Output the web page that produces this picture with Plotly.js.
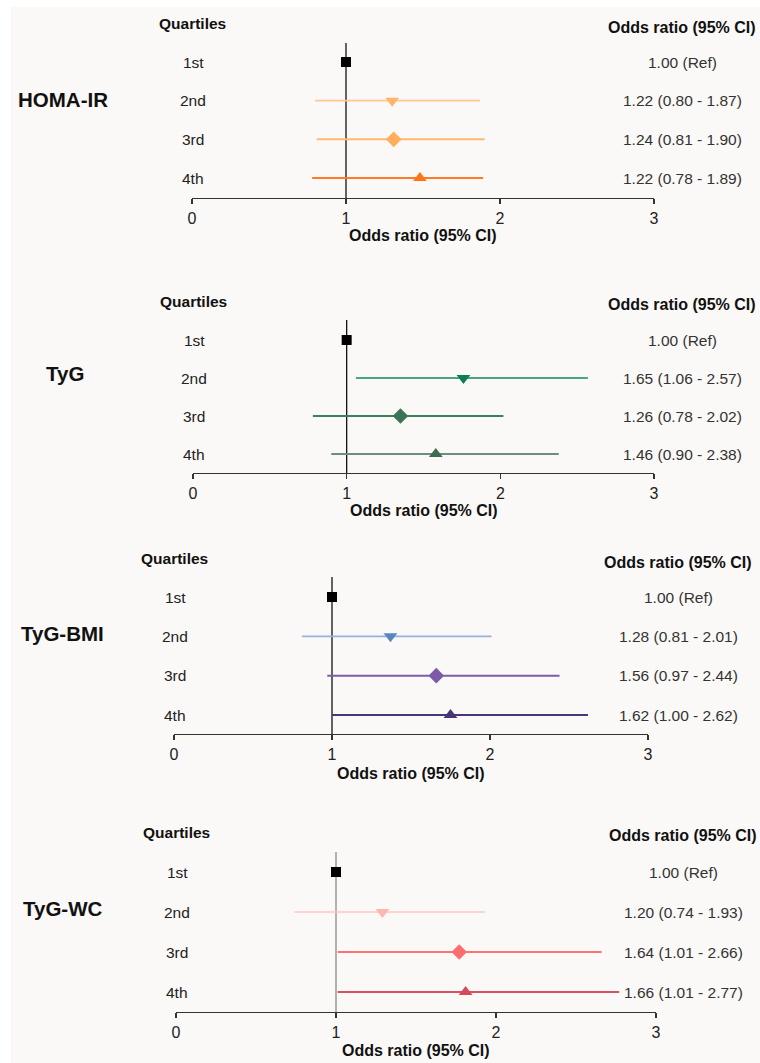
<!DOCTYPE html>
<html>
<head>
<meta charset="utf-8">
<script src="https://cdn.plot.ly/plotly-3.0.1.min.js"></script>
<style>html,body{margin:0;padding:0;background:#fff;}#chart{width:760px;height:1063px;}</style>
</head>
<body>
<div id="chart"></div>
<script>
// ---------- DATA ----------
const quartiles = ['1st', '2nd', '3rd', '4th'];
const groups = ['HOMA-IR', 'TyG', 'TyG-BMI', 'TyG-WC'];

// Printed odds ratios and 95% CI
const homaOR = [1.00, 1.22, 1.24, 1.22];
const homaLo = [null, 0.80, 0.81, 0.78];
const homaHi = [null, 1.87, 1.90, 1.89];
const homaMarker = [1.00, 1.30, 1.31, 1.48];   // marker positions as drawn

const tygOR = [1.00, 1.65, 1.26, 1.46];
const tygLo = [null, 1.06, 0.78, 0.90];
const tygHi = [null, 2.57, 2.02, 2.38];
const tygMarker = [1.00, 1.76, 1.35, 1.58];

const bmiOR = [1.00, 1.28, 1.56, 1.62];
const bmiLo = [null, 0.81, 0.97, 1.00];
const bmiHi = [null, 2.01, 2.44, 2.62];
const bmiMarker = [1.00, 1.37, 1.66, 1.75];

const wcOR = [1.00, 1.20, 1.64, 1.66];
const wcLo = [null, 0.74, 1.01, 1.01];
const wcHi = [null, 1.93, 2.66, 2.77];
const wcMarker = [1.00, 1.29, 1.77, 1.81];

const xTicks = [0, 1, 2, 3];
const headerLeft = 'Quartiles';
const headerRight = 'Odds ratio (95% CI)';
const axisTitle = 'Odds ratio (95% CI)';

// ---------- STYLE / GEOMETRY ----------
const W = 760, H = 1063;
const FONT = 'Liberation Sans, Arial, sans-serif';
const panels = [
  {or: homaOR, lo: homaLo, hi: homaHi, mk: homaMarker,
   x0: 192, x3: 654, axisY: 198, row1Y: 62, row4Y: 178, topY: 43,
   labelX: 63, labelY: 100, qY: 24, orX: 682, orHY: 27, titleY: 236,
   lineColors: ['#000', '#FFC790', '#FFB86E', '#FF7B22'],
   markColors: ['#000', '#FFB46A', '#FFAE5E', '#FF7418'], refColor: '#111'},
  {or: tygOR, lo: tygLo, hi: tygHi, mk: tygMarker,
   x0: 193, x3: 654, axisY: 473, row1Y: 340, row4Y: 454, topY: 320,
   labelX: 65, labelY: 374, qY: 301, orX: 682, orHY: 304, titleY: 510,
   lineColors: ['#000', '#0E8A57', '#3E7E5C', '#6E8E7C'],
   markColors: ['#000', '#0C8050', '#3A7656', '#3E6B52'], refColor: '#111'},
  {or: bmiOR, lo: bmiLo, hi: bmiHi, mk: bmiMarker,
   x0: 174, x3: 648, axisY: 734, row1Y: 597, row4Y: 715, topY: 577,
   labelX: 63, labelY: 633, qY: 558, orX: 678, orHY: 562, titleY: 773,
   lineColors: ['#000', '#93B3D9', '#7D5DAA', '#4A3577'],
   markColors: ['#000', '#5A86C0', '#7B5BA8', '#4A3577'], refColor: '#111'},
  {or: wcOR, lo: wcLo, hi: wcHi, mk: wcMarker,
   x0: 176, x3: 656, axisY: 1012, row1Y: 872, row4Y: 992, topY: 852,
   labelX: 63, labelY: 908, qY: 832, orX: 683, orHY: 835, titleY: 1050,
   lineColors: ['#000', '#FFC6C2', '#FF7272', '#D9505E'],
   markColors: ['#000', '#FFB6B0', '#FF6E6E', '#D84A59'], refColor: '#8a8a8a'}
];
const symbols = ['square', 'triangle-down', 'diamond', 'triangle-up'];
const markSizes = [10, 12, 12, 12];
const lineWidths = [0, 1.6, 2, 2.2];

function fx(px) { return px / W; }
function fy(py) { return 1 - py / H; }
function fmt(v) { return v.toFixed(2); }

const traces = [];
const annotations = [];
const shapes = [];
const layout = {
  width: W, height: H,
  margin: {l: 0, r: 0, t: 0, b: 0},
  paper_bgcolor: '#ffffff',
  plot_bgcolor: 'rgba(0,0,0,0)',
  showlegend: false,
  font: {family: FONT, color: '#222'}
};

// background sheet
shapes.push({type: 'rect', xref: 'paper', yref: 'paper', x0: fx(11), x1: 1, y0: 0, y1: fy(7),
  fillcolor: '#FBF9F7', line: {width: 0}, layer: 'below'});

panels.forEach((p, i) => {
  const n = i + 1;
  const xa = n === 1 ? 'x' : 'x' + n;
  const ya = n === 1 ? 'y' : 'y' + n;
  const s = (p.row4Y - p.row1Y) / 3;
  const yBottom = 1 - (p.axisY - p.row4Y) / s;
  const yTop = 4 + (p.row1Y - p.topY) / s;
  const rowVal = k => 4 - k;

  layout[n === 1 ? 'xaxis' : 'xaxis' + n] = {
    domain: [fx(p.x0), fx(p.x3)], range: [0, 3], anchor: ya,
    showline: true, linecolor: '#333', linewidth: 1.3,
    ticks: 'outside', ticklen: 5, tickwidth: 1.2, tickcolor: '#333',
    tickvals: xTicks, ticktext: xTicks.map(String),
    tickfont: {family: FONT, size: 16, color: '#222'},
    showgrid: false, zeroline: false, fixedrange: true
  };
  layout[n === 1 ? 'yaxis' : 'yaxis' + n] = {
    domain: [fy(p.axisY), fy(p.topY)], range: [yBottom, yTop], anchor: xa,
    visible: false, showgrid: false, zeroline: false, fixedrange: true
  };

  // reference line at OR = 1
  shapes.push({type: 'line', xref: xa, yref: ya + ' domain', x0: 1, x1: 1, y0: 0, y1: 1,
    line: {color: p.refColor, width: 1.3}, layer: 'below'});

  // CI lines
  quartiles.forEach((q, k) => {
    if (p.lo[k] !== null) {
      traces.push({type: 'scatter', mode: 'lines', xaxis: xa, yaxis: ya,
        x: [p.lo[k], p.hi[k]], y: [rowVal(k), rowVal(k)],
        line: {color: p.lineColors[k], width: lineWidths[k]}, hoverinfo: 'skip'});
    }
  });
  // markers
  quartiles.forEach((q, k) => {
    traces.push({type: 'scatter', mode: 'markers', xaxis: xa, yaxis: ya,
      x: [p.mk[k]], y: [rowVal(k)],
      marker: {symbol: symbols[k], size: markSizes[k], color: p.markColors[k], line: {width: 0}},
      hoverinfo: 'skip'});
  });

  // group label
  annotations.push({xref: 'paper', yref: 'paper', x: fx(p.labelX), y: fy(p.labelY),
    text: '<b>' + groups[i] + '</b>', showarrow: false, xanchor: 'center', yanchor: 'middle',
    font: {family: FONT, size: 20.5, color: '#111'}});
  // headers
  annotations.push({xref: 'paper', yref: 'paper', x: fx(p.x0), y: fy(p.qY),
    text: '<b>' + headerLeft + '</b>', showarrow: false, xanchor: 'center', yanchor: 'middle',
    font: {family: FONT, size: 15.5, color: '#111'}});
  annotations.push({xref: 'paper', yref: 'paper', x: fx(p.orX), y: fy(p.orHY),
    text: '<b>' + headerRight + '</b>', showarrow: false, xanchor: 'center', yanchor: 'middle',
    font: {family: FONT, size: 16, color: '#111'}});
  // axis title
  annotations.push({xref: 'paper', yref: 'paper', x: fx((p.x0 + p.x3) / 2), y: fy(p.titleY),
    text: '<b>' + axisTitle + '</b>', showarrow: false, xanchor: 'center', yanchor: 'middle',
    font: {family: FONT, size: 16, color: '#111'}});
  // row labels and OR texts
  quartiles.forEach((q, k) => {
    annotations.push({xref: 'paper', yref: ya, x: fx(p.x0 + 1), y: rowVal(k),
      text: q, showarrow: false, xanchor: 'center', yanchor: 'middle',
      font: {family: FONT, size: 15.5, color: '#222'}});
    const t = p.lo[k] === null ? fmt(p.or[k]) + ' (Ref)'
      : fmt(p.or[k]) + ' (' + fmt(p.lo[k]) + ' - ' + fmt(p.hi[k]) + ')';
    annotations.push({xref: 'paper', yref: ya, x: fx(p.orX), y: rowVal(k),
      text: t, showarrow: false, xanchor: 'center', yanchor: 'middle',
      font: {family: FONT, size: 15.5, color: '#333'}});
  });
});

layout.shapes = shapes;
layout.annotations = annotations;
Plotly.newPlot('chart', traces, layout, {staticPlot: true, displayModeBar: false});
</script>
</body>
</html>
